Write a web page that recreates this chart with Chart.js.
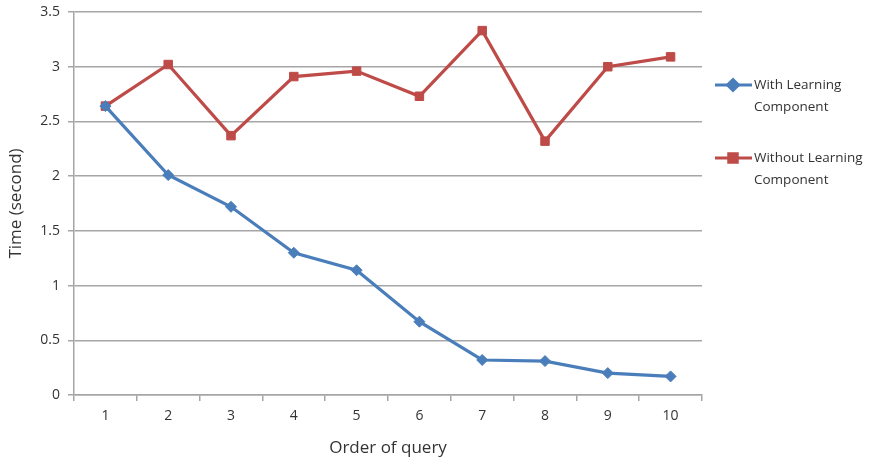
<!DOCTYPE html>
<html>
<head>
<meta charset="utf-8">
<script src="https://cdn.jsdelivr.net/npm/chart.js@4.4.1/dist/chart.umd.min.js"></script>
<style>
  html, body { margin: 0; padding: 0; background: #fff; }
  #wrap { width: 882px; height: 458px; position: relative; }
</style>
</head>
<body>
<div id="wrap"><canvas id="c" width="882" height="458"></canvas></div>
<script>
const queryOrder = ['1', '2', '3', '4', '5', '6', '7', '8', '9', '10'];
const withLearning = [2.64, 2.01, 1.72, 1.30, 1.14, 0.67, 0.32, 0.31, 0.20, 0.17];
const withoutLearning = [2.64, 3.02, 2.37, 2.91, 2.96, 2.73, 3.33, 2.32, 3.00, 3.09];
const seriesNames = [['With Learning', 'Component'], ['Without Learning', 'Component']];

const BLUE = '#4a7ebb';
const RED = '#be4b48';
const FONT = '"Open Sans", "Noto Sans", sans-serif';
const TEXT = '#333333';
const GRID = '#a6a6a6';

// Two-line legend entries drawn to the right of the plot
const sideLegend = {
  id: 'sideLegend',
  afterDraw(chart) {
    const ctx = chart.ctx;
    const rows = [85, 158];
    chart.data.datasets.forEach((ds, i) => {
      const y = rows[i];
      ctx.save();
      ctx.strokeStyle = ds.borderColor;
      ctx.lineWidth = 3;
      ctx.beginPath();
      ctx.moveTo(715, y);
      ctx.lineTo(752, y);
      ctx.stroke();
      Chart.helpers.drawPoint(ctx, {
        pointStyle: ds.pointStyle,
        radius: ds.pointRadius,
        borderWidth: 1
      }, 733, y);
      ctx.fillStyle = ds.borderColor;
      ctx.fill();
      ctx.fillStyle = TEXT;
      ctx.font = '13.5px ' + FONT;
      ctx.textBaseline = 'middle';
      ctx.textAlign = 'left';
      seriesNames[i].forEach((line, k) => ctx.fillText(line, 754, y + k * 22));
      ctx.restore();
    });
  }
};

new Chart(document.getElementById('c'), {
  type: 'line',
  data: {
    labels: queryOrder,
    datasets: [
      {
        label: seriesNames[0].join(' '),
        data: withLearning,
        borderColor: BLUE,
        backgroundColor: BLUE,
        borderWidth: 3.2,
        pointStyle: 'rectRot',
        pointRadius: 5.5,
        pointBorderWidth: 1,
        tension: 0
      },
      {
        label: seriesNames[1].join(' '),
        data: withoutLearning,
        borderColor: RED,
        backgroundColor: RED,
        borderWidth: 3.2,
        pointStyle: 'rect',
        pointRadius: 6,
        pointBorderWidth: 1,
        tension: 0
      }
    ]
  },
  options: {
    responsive: false,
    animation: false,
    devicePixelRatio: 1,
    layout: { padding: { top: 12, right: 180, left: 0, bottom: 0 } },
    plugins: {
      legend: { display: false },
      tooltip: { enabled: false }
    },
    scales: {
      x: {
        offset: true,
        grid: {
          offset: true,
          drawOnChartArea: false,
          drawTicks: true,
          tickLength: 6,
          color: GRID,
          lineWidth: 1.5
        },
        border: { color: GRID, width: 1.5 },
        ticks: { color: TEXT, font: { family: FONT, size: 14 }, padding: 7, maxRotation: 0 },
        title: {
          display: true,
          text: 'Order of query',
          color: TEXT,
          font: { family: FONT, size: 17 },
          padding: { top: 4, bottom: 0 }
        },
        afterFit(scale) { scale.height = 63; }
      },
      y: {
        min: 0,
        max: 3.5,
        ticks: {
          stepSize: 0.5,
          color: TEXT,
          font: { family: FONT, size: 14 },
          padding: 8,
          callback: v => String(v)
        },
        grid: {
          color: GRID,
          lineWidth: 1.5,
          tickLength: 6
        },
        border: { color: GRID, width: 1.5 },
        title: {
          display: true,
          text: 'Time (second)',
          color: TEXT,
          font: { family: FONT, size: 17 },
          padding: { top: 6, bottom: 4 }
        },
        afterFit(scale) {
          scale.width = 74;
          scale.paddingTop = 0;
          scale.paddingBottom = 0;
        }
      }
    }
  },
  plugins: [sideLegend]
});
</script>
</body>
</html>
